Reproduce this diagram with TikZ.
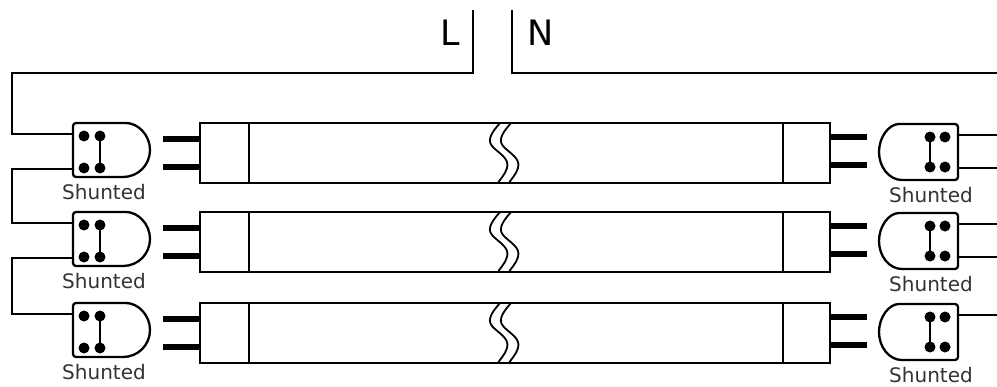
\documentclass[tikz,border=0pt]{standalone}
\usepackage{fontspec}
\setmainfont{DejaVu Sans}
\begin{document}
\begin{tikzpicture}[x=1pt, y=-1pt, line width=2.3pt,
    pin/.style={line width=6.5pt},
    lbl/.style={text=black!80, font=\fontsize{20}{24}\selectfont, inner sep=0pt}]
    \useasboundingbox (0,0) rectangle (997,386);
    \coordinate (edge) at (997,0);
    \coordinate (corner) at (12,73);

    \node (L) at (450,33) {\fontsize{35}{40}\selectfont L};
    \node (N) at (541,33) {\fontsize{35}{40}\selectfont N};
    \coordinate (Lw) at (473,10);
    \coordinate (Nw) at (512,10);

    \foreach \r/\dy in {1/0, 2/89, 3/180}
    {
       % left socket
       \draw (123,123+\dy) .. controls (138,123+\dy) and (150,135+\dy) .. (150,150+\dy)
             .. controls (150,165+\dy) and (138,177+\dy) .. (123,177+\dy)
             [rounded corners=3pt] -- (73,177+\dy) -- (73,123+\dy) -- cycle;
       \foreach \x in {84,100}
       {
          \fill (\x,136+\dy) circle (5.5pt) (\x,168+\dy) circle (5.5pt);
       }
       \draw (100,136+\dy) -- (100,168+\dy);
       \coordinate (la\r) at (73,134+\dy);
       \coordinate (lb\r) at (73,169+\dy);
       \node[lbl] (sl\r) at (104,192+\dy) {Shunted};

       % tube
       \draw[pin] (163,139+\dy) -- (200,139+\dy) (163,167+\dy) -- (200,167+\dy);
       \draw (200,123+\dy) rectangle (830,183+\dy);
       \draw (249,123+\dy) -- (249,183+\dy) (783,123+\dy) -- (783,183+\dy);
       \draw[pin] (830,137+\dy) -- (867,137+\dy) (830,165+\dy) -- (867,165+\dy);
       \foreach \s in {0,11}
       {
          \draw[line width=1.8pt] (500+\s,123+\dy) .. controls (494+\s,130+\dy) and (486+\s,139+\dy) .. (492+\s,146+\dy)
                .. controls (498+\s,153+\dy) and (510+\s,158+\dy) .. (507+\s,168+\dy)
                .. controls (505+\s,175+\dy) and (500+\s,179+\dy) .. (498+\s,183+\dy);
       }

       % right socket
       \draw (902,124+\dy) .. controls (889,124+\dy) and (879,137+\dy) .. (879,152+\dy)
             .. controls (879,167+\dy) and (889,180+\dy) .. (902,180+\dy)
             [rounded corners=3pt] -- (958,180+\dy) -- (958,124+\dy) -- cycle;
       \foreach \x in {930,945}
       {
          \fill (\x,137+\dy) circle (5.5pt) (\x,167+\dy) circle (5.5pt);
       }
       \draw (930,137+\dy) -- (930,167+\dy);
       \coordinate (ra\r) at (958,135+\dy);
       \coordinate (rb\r) at (958,168+\dy);
       \node[lbl] (sr\r) at (931,195+\dy) {Shunted};
    }

    % wiring
    \draw (Lw) |- (corner) |- (la1);
    \draw (Nw) |- (edge |- corner);
    \draw (lb1) -- ++(-61,0) |- (la2);
    \draw (lb2) -- ++(-61,0) |- (la3);
    \draw (ra1) -- (ra1 -| edge) (rb1) -- (rb1 -| edge);
    \draw (ra2) -- (ra2 -| edge) (rb2) -- (rb2 -| edge);
    \draw (ra3) -- (ra3 -| edge);
\end{tikzpicture}
\end{document}
